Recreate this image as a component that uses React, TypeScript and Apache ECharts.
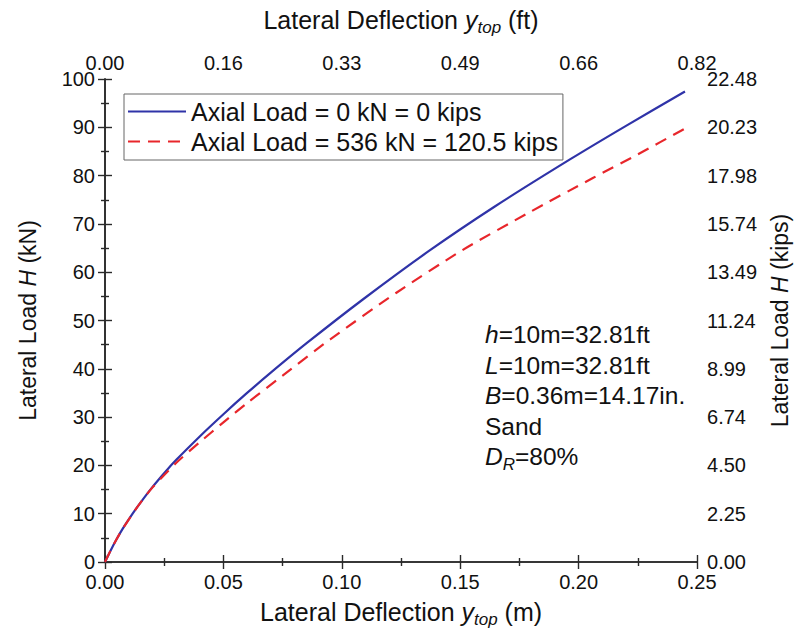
import React, { useEffect, useRef } from "react";
import * as echarts from "echarts";

// ---- Data ----
const blueX = [0, 0.0025, 0.005, 0.0075, 0.0118, 0.015, 0.02, 0.0257, 0.03, 0.04, 0.05, 0.06, 0.07, 0.0854, 0.109, 0.1368, 0.1646, 0.1965, 0.22, 0.2449];
const blueH = [0, 2.5, 4.8, 6.9, 10.1, 12.3, 15.5, 18.8, 21.1, 26.0, 30.6, 35.0, 39.2, 45.4, 54.4, 64.4, 73.6, 83.4, 90.3, 97.4];

const redX = [0, 0.0025, 0.005, 0.0075, 0.0118, 0.015, 0.02, 0.03, 0.04, 0.05, 0.06, 0.075, 0.0951, 0.1229, 0.1507, 0.1785, 0.206, 0.225, 0.2451];
const redH = [0, 2.5, 4.8, 6.9, 10.1, 12.3, 15.4, 20.5, 24.8, 28.9, 32.9, 38.6, 46.1, 55.7, 64.5, 72.2, 79.5, 84.4, 89.8];

const seriesNames = ["Axial Load = 0 kN = 0 kips", "Axial Load = 536 kN = 120.5 kips"];

const mTickLabels = ["0.00", "0.05", "0.10", "0.15", "0.20", "0.25"];
const ftTickLabels = ["0.00", "0.16", "0.33", "0.49", "0.66", "0.82"];
const kNTickLabels = ["0", "10", "20", "30", "40", "50", "60", "70", "80", "90", "100"];
const kipsTickLabels = ["0.00", "2.25", "4.50", "6.74", "8.99", "11.24", "13.49", "15.74", "17.98", "20.23", "22.48"];

const annotationLines = [
  "{i|h}{n|=10m=32.81ft}",
  "{i|L}{n|=10m=32.81ft}",
  "{i|B}{n|=0.36m=14.17in.}",
  "{n|Sand}",
  "{i|D}{s|R}{n|=80%}",
];

const FONT = "'Liberation Sans', Arial, Helvetica, sans-serif";
const TXT = "#111";
const AX = "#2a2a2a";

function makeRich(size: number) {
  return {
    n: { fontSize: size, lineHeight: 32, fontFamily: FONT, color: TXT },
    i: { fontSize: size, lineHeight: 32, fontFamily: FONT, color: TXT, fontStyle: "italic" },
    s: { fontSize: Math.round(size * 0.68), lineHeight: 16, fontFamily: FONT, color: TXT, fontStyle: "italic", verticalAlign: "bottom" },
  };
}

export default function App() {
  const ref = useRef<HTMLDivElement>(null);

  useEffect(() => {
    if (!ref.current) return;
    const chart = echarts.init(ref.current, null, { renderer: "svg" });

    const blueData = blueX.map((x, i) => [x, blueH[i]]);
    const redData = redX.map((x, i) => [x, redH[i]]);

    const richH = makeRich(25);
    const richV = makeRich(23);
    const richNote = makeRich(24.5);

    const axisLine = { show: true, lineStyle: { color: AX, width: 1.6 } };
    const axisTick = { show: true, inside: true, length: 7, lineStyle: { color: AX, width: 1.4 } };
    const minorTick = { show: true, splitNumber: 2, length: 4, lineStyle: { color: AX, width: 1.4 } };
    const labelBase = { fontSize: 20, color: TXT, fontFamily: FONT, showMinLabel: true, showMaxLabel: true };

    const option: any = {
      animation: false,
      backgroundColor: "#ffffff",
      grid: { left: 105, right: 94, top: 79, bottom: 77, containLabel: false },
      legend: {
        show: true,
        orient: "vertical",
        left: 124,
        top: 94,
        padding: [5, 5, 6, 3],
        itemGap: 5,
        itemWidth: 58,
        itemHeight: 14,
        borderColor: "#666",
        borderWidth: 1,
        backgroundColor: "#fff",
        itemStyle: { opacity: 0 },
        textStyle: { fontSize: 25, lineHeight: 25, color: TXT, fontFamily: FONT },
        data: seriesNames,
      },
      xAxis: [
        {
          type: "value",
          position: "bottom",
          min: 0,
          max: 0.25,
          interval: 0.05,
          axisLine,
          axisTick,
          minorTick,
          splitLine: { show: false },
          axisLabel: { ...labelBase, margin: 10, formatter: (v: number) => mTickLabels[Math.round(v / 0.05)] ?? "" },
          name: "{n|Lateral Deflection }{i|y}{s|top}{n| (m)}",
          nameLocation: "middle",
          nameGap: 34,
          nameTextStyle: { rich: richH },
        },
        {
          type: "value",
          position: "top",
          min: 0,
          max: 0.25,
          interval: 0.05,
          axisLine,
          axisTick,
          minorTick,
          splitLine: { show: false },
          axisLabel: { ...labelBase, margin: 6, formatter: (v: number) => ftTickLabels[Math.round(v / 0.05)] ?? "" },
          name: "{n|Lateral Deflection }{i|y}{s|top}{n| (ft)}",
          nameLocation: "middle",
          nameGap: 43,
          nameTextStyle: { rich: richH },
        },
      ],
      yAxis: [
        {
          type: "value",
          position: "left",
          min: 0,
          max: 100,
          interval: 10,
          axisLine,
          axisTick,
          minorTick,
          splitLine: { show: false },
          axisLabel: { ...labelBase, margin: 10, formatter: (v: number) => kNTickLabels[Math.round(v / 10)] ?? "" },
          name: "{n|Lateral Load }{i|H}{n| (kN)}",
          nameLocation: "middle",
          nameRotate: 90,
          nameGap: 61,
          nameTextStyle: { rich: richV },
        },
        {
          type: "value",
          position: "right",
          min: 0,
          max: 100,
          interval: 10,
          axisLine,
          axisTick,
          minorTick,
          splitLine: { show: false },
          axisLabel: { ...labelBase, margin: 10, formatter: (v: number) => kipsTickLabels[Math.round(v / 10)] ?? "" },
          name: "{n|Lateral Load }{i|H}{n| (kips)}",
          nameLocation: "middle",
          nameRotate: 90,
          nameGap: 55,
          nameTextStyle: { rich: richV },
        },
      ],
      series: [
        {
          name: seriesNames[0],
          type: "line",
          xAxisIndex: 0,
          yAxisIndex: 0,
          data: blueData,
          symbol: "none",
          smooth: 0.25,
          lineStyle: { color: "#2f33a8", width: 2.2 },
          itemStyle: { color: "#2f33a8" },
          z: 3,
        },
        {
          name: seriesNames[1],
          type: "line",
          xAxisIndex: 0,
          yAxisIndex: 0,
          data: redData,
          symbol: "none",
          smooth: 0.25,
          lineStyle: { color: "#e8262b", width: 2.2, type: [12, 8] },
          itemStyle: { color: "#e8262b" },
          z: 4,
        },
      ],
      graphic: annotationLines.map((t, k) => ({
        type: "text",
        left: 485,
        top: 322 + k * 30.5,
        z: 10,
        style: {
          text: t,
          rich: richNote,
          fill: TXT,
        },
      })),
    };

    chart.setOption(option);
    return () => chart.dispose();
  }, []);

  return (
    <div
      ref={ref}
      style={{ position: "fixed", left: 0, top: 0, width: 799, height: 639, background: "#fff" }}
    />
  );
}
